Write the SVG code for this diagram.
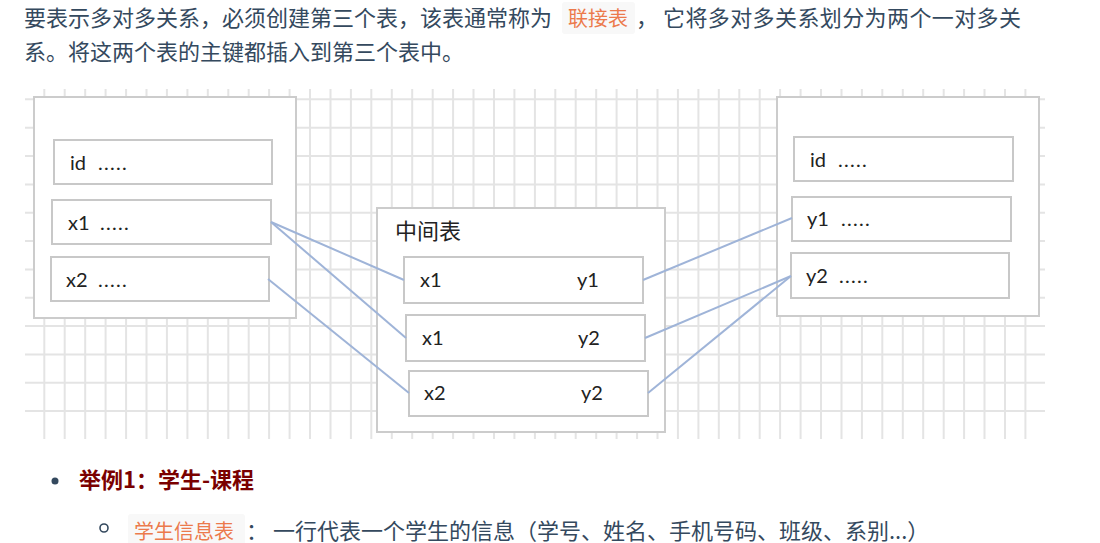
<svg xmlns="http://www.w3.org/2000/svg" width="1100" height="543" viewBox="0 0 1100 543">
<style>
.body{font-family:"Noto Sans CJK SC","Liberation Sans",sans-serif;font-size:22px;fill:#34495e}
.code{font-family:"Noto Sans CJK SC","Liberation Sans",sans-serif;font-size:20px;fill:#ec7a4c}
.codebg{fill:#f8f8f8}
.head{font-family:"Noto Sans CJK SC","Liberation Sans",sans-serif;font-size:22px;font-weight:bold;fill:#7a0000}
.grid line{stroke:#e4e4e4;stroke-width:2}
.outer{fill:#fff;stroke:#cccccc;stroke-width:2}
.box{fill:#fff;stroke:#c8c8c8;stroke-width:2}
.lbl{font-family:Lato,"Liberation Sans",sans-serif;font-size:20px;fill:#222}
.dots{letter-spacing:1.3px}
.cn{font-family:"Noto Sans CJK SC",sans-serif;font-size:22px;fill:#222}
.conn line{stroke:#9fb4d8;stroke-width:2}
</style>
<rect width="1100" height="543" fill="#fff"/>
<!-- top paragraph -->
<text class="body" x="24" y="26">要表示多对多关系，必须创建第三个表，该表通常称为</text>
<rect class="codebg" x="562" y="2" width="73" height="32" rx="3"/>
<text class="code" x="568" y="26">联接表</text>
<text class="body" x="636" y="26">，</text>
<text class="body" x="663" y="26" textLength="358">它将多对多关系划分为两个一对多关</text>
<text class="body" x="24" y="60">系。将这两个表的主键都插入到第三个表中。</text>
<!-- grid -->
<g class="grid">
<line x1="25" y1="99.3" x2="1045" y2="99.3"/>
<line x1="25" y1="127.7" x2="1045" y2="127.7"/>
<line x1="25" y1="156" x2="1045" y2="156"/>
<line x1="25" y1="184.4" x2="1045" y2="184.4"/>
<line x1="25" y1="212.7" x2="1045" y2="212.7"/>
<line x1="25" y1="241" x2="1045" y2="241"/>
<line x1="25" y1="269.4" x2="1045" y2="269.4"/>
<line x1="25" y1="297.7" x2="1045" y2="297.7"/>
<line x1="25" y1="326.1" x2="1045" y2="326.1"/>
<line x1="25" y1="354.4" x2="1045" y2="354.4"/>
<line x1="25" y1="382.8" x2="1045" y2="382.8"/>
<line x1="25" y1="411.1" x2="1045" y2="411.1"/>
<line x1="44.3" y1="89" x2="44.3" y2="439"/>
<line x1="64.7" y1="89" x2="64.7" y2="439"/>
<line x1="85.2" y1="89" x2="85.2" y2="439"/>
<line x1="105.6" y1="89" x2="105.6" y2="439"/>
<line x1="126.1" y1="89" x2="126.1" y2="439"/>
<line x1="146.5" y1="89" x2="146.5" y2="439"/>
<line x1="166.9" y1="89" x2="166.9" y2="439"/>
<line x1="187.4" y1="89" x2="187.4" y2="439"/>
<line x1="207.8" y1="89" x2="207.8" y2="439"/>
<line x1="228.3" y1="89" x2="228.3" y2="439"/>
<line x1="248.7" y1="89" x2="248.7" y2="439"/>
<line x1="269.1" y1="89" x2="269.1" y2="439"/>
<line x1="289.6" y1="89" x2="289.6" y2="439"/>
<line x1="310" y1="89" x2="310" y2="439"/>
<line x1="330.5" y1="89" x2="330.5" y2="439"/>
<line x1="350.9" y1="89" x2="350.9" y2="439"/>
<line x1="371.3" y1="89" x2="371.3" y2="439"/>
<line x1="391.8" y1="89" x2="391.8" y2="439"/>
<line x1="412.2" y1="89" x2="412.2" y2="439"/>
<line x1="432.7" y1="89" x2="432.7" y2="439"/>
<line x1="453.1" y1="89" x2="453.1" y2="439"/>
<line x1="473.5" y1="89" x2="473.5" y2="439"/>
<line x1="494" y1="89" x2="494" y2="439"/>
<line x1="514.4" y1="89" x2="514.4" y2="439"/>
<line x1="534.9" y1="89" x2="534.9" y2="439"/>
<line x1="555.3" y1="89" x2="555.3" y2="439"/>
<line x1="575.7" y1="89" x2="575.7" y2="439"/>
<line x1="596.2" y1="89" x2="596.2" y2="439"/>
<line x1="616.6" y1="89" x2="616.6" y2="439"/>
<line x1="637.1" y1="89" x2="637.1" y2="439"/>
<line x1="657.5" y1="89" x2="657.5" y2="439"/>
<line x1="677.9" y1="89" x2="677.9" y2="439"/>
<line x1="698.4" y1="89" x2="698.4" y2="439"/>
<line x1="718.8" y1="89" x2="718.8" y2="439"/>
<line x1="739.3" y1="89" x2="739.3" y2="439"/>
<line x1="759.7" y1="89" x2="759.7" y2="439"/>
<line x1="780.1" y1="89" x2="780.1" y2="439"/>
<line x1="800.6" y1="89" x2="800.6" y2="439"/>
<line x1="821" y1="89" x2="821" y2="439"/>
<line x1="841.5" y1="89" x2="841.5" y2="439"/>
<line x1="861.9" y1="89" x2="861.9" y2="439"/>
<line x1="882.3" y1="89" x2="882.3" y2="439"/>
<line x1="902.8" y1="89" x2="902.8" y2="439"/>
<line x1="923.2" y1="89" x2="923.2" y2="439"/>
<line x1="943.7" y1="89" x2="943.7" y2="439"/>
<line x1="964.1" y1="89" x2="964.1" y2="439"/>
<line x1="984.5" y1="89" x2="984.5" y2="439"/>
<line x1="1005" y1="89" x2="1005" y2="439"/>
<line x1="1025.4" y1="89" x2="1025.4" y2="439"/>
</g>
<!-- left table -->
<g id="table-left">
<rect class="outer" x="34" y="97" width="262" height="221"/>
<rect class="box" x="54" y="140" width="218" height="44"/>
<text class="lbl" x="70" y="170">id<tspan class="dots" x="98">.....</tspan></text>
<rect class="box" x="52" y="200" width="219" height="44"/>
<text class="lbl" x="68" y="230">x1<tspan class="dots" x="100">.....</tspan></text>
<rect class="box" x="51" y="257" width="218" height="44"/>
<text class="lbl" x="66" y="287">x2<tspan class="dots" x="98">.....</tspan></text>
</g>
<!-- middle table -->
<g id="table-middle">
<rect class="outer" x="377" y="208" width="288" height="224"/>
<text class="cn" x="395" y="239">中间表</text>
<rect class="box" x="404" y="257" width="239" height="46"/>
<text class="lbl" x="420" y="287">x1</text>
<text class="lbl" x="577" y="287">y1</text>
<rect class="box" x="406" y="315" width="239" height="46"/>
<text class="lbl" x="422" y="345">x1</text>
<text class="lbl" x="578" y="345">y2</text>
<rect class="box" x="409" y="371" width="239" height="45"/>
<text class="lbl" x="424" y="400">x2</text>
<text class="lbl" x="581" y="400">y2</text>
</g>
<!-- right table -->
<g id="table-right">
<rect class="outer" x="777" y="97" width="262" height="219"/>
<rect class="box" x="794" y="137" width="219" height="44"/>
<text class="lbl" x="810" y="167">id<tspan class="dots" x="838">.....</tspan></text>
<rect class="box" x="792" y="197" width="219" height="44"/>
<text class="lbl" x="807" y="226">y1<tspan class="dots" x="841">.....</tspan></text>
<rect class="box" x="791" y="253" width="218" height="45"/>
<text class="lbl" x="806" y="283">y2<tspan class="dots" x="839">.....</tspan></text>
</g>
<!-- connectors -->
<g class="conn" id="connectors">
<line x1="271" y1="222" x2="404" y2="280"/>
<line x1="271" y1="222" x2="406" y2="338"/>
<line x1="268" y1="279" x2="409" y2="393"/>
<line x1="643" y1="280" x2="792" y2="218"/>
<line x1="645" y1="338" x2="791" y2="276"/>
<line x1="648" y1="393" x2="791" y2="276"/>
</g>
<!-- list -->
<circle cx="55" cy="481" r="3.5" fill="#34495e"/>
<text class="head" x="79" y="488">举例1：学生-课程</text>
<circle cx="104" cy="528" r="4" fill="none" stroke="#34495e" stroke-width="1.6"/>
<rect class="codebg" x="128" y="514" width="117" height="34" rx="3"/>
<text class="code" x="134" y="539">学生信息表</text>
<text class="body" x="246" y="539">： 一行代表一个学生的信息（学号、姓名、手机号码、班级、系别...）</text>
</svg>
